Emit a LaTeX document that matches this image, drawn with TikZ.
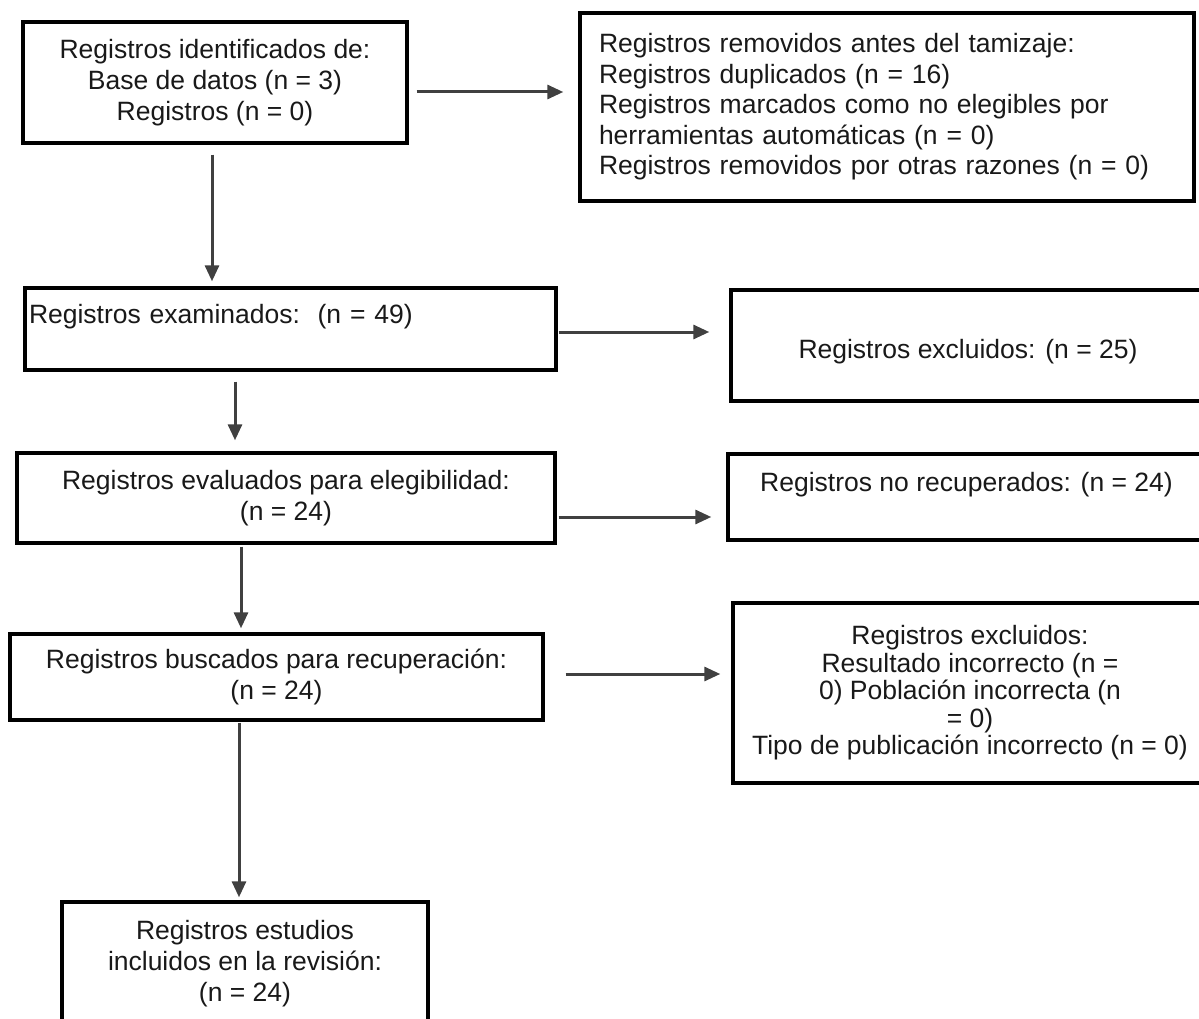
\documentclass[tikz,border=0pt]{standalone}
\usepackage{fontspec}
\setmainfont{Liberation Sans}
\usetikzlibrary{arrows.meta}
\begin{document}
\begin{tikzpicture}[x=1pt,y=-1pt,
  box/.style={draw=black, line width=3.4pt, inner sep=0pt, text=black!90,
    font=\fontsize{26.5}{31}\selectfont},
  arr/.style={draw=black!75, line width=3pt, -{Triangle[length=16pt,width=14pt]}}]
\useasboundingbox (0,0) rectangle (1199,1019);
\fill[white] (0,0) rectangle (1199,1019);

\node[box, minimum width=384pt, minimum height=121pt, align=center] (b1) at (215,82.5)
  {Registros identificados de:\\Base de datos (n = 3)\\Registros (n = 0)};

\node[box, minimum width=614pt, minimum height=188pt, text width=576pt, inner xsep=19pt,
  align=left, font=\fontsize{26.5}{30.5}\selectfont] (rr) at (887,107)
  {Registros removidos antes del tamizaje:\\Registros duplicados (n = 16)\\Registros marcados como no elegibles por\\herramientas automáticas (n = 0)\\Registros removidos por otras razones (n = 0)};

\node[box, minimum width=531pt, minimum height=82pt, text width=523pt, inner xsep=4pt,
  align=left] (ex) at (290.5,329)
  {Registros examinados:\ \ (n = 49)\\\mbox{}};

\node[box, minimum width=474pt, minimum height=111pt, align=center] (exc) at (968,345.5)
  {\mbox{}\\Registros excluidos: (n = 25)};

\node[box, minimum width=538pt, minimum height=90pt, align=center] (ev) at (286,498)
  {Registros evaluados para elegibilidad:\\(n = 24)};

\node[box, minimum width=477pt, minimum height=86pt, align=center] (nr) at (966.5,497)
  {Registros no recuperados: (n = 24)\\\mbox{}};

\node[box, minimum width=533pt, minimum height=86pt, align=center] (bu) at (276.5,677)
  {Registros buscados para recuperación:\\(n = 24)};

\node[box, minimum width=474pt, minimum height=180pt, align=center,
  font=\fontsize{26.5}{27.5}\selectfont] (ex2) at (970,693)
  {Registros excluidos:\\Resultado incorrecto (n =\\0) Población incorrecta (n\\= 0)\\Tipo de publicación incorrecto (n = 0)};

\node[box, minimum width=366pt, minimum height=123pt, align=center] (inc) at (245,963.5)
  {Registros estudios\\incluidos en la revisión:\\(n = 24)};

\coordinate (a1) at ([yshift=-9.5pt]b1.east);
\draw[arr, shorten <=8pt, shorten >=15pt] (a1) -- (a1 -| rr.west);

\coordinate (a2) at ([xshift=-3pt]b1.south);
\draw[arr, shorten <=10pt, shorten >=5pt] (a2) -- (a2 |- ex.north);

\coordinate (a3) at ([yshift=-3pt]ex.east);
\draw[arr, shorten <=1pt, shorten >=20pt] (a3) -- (a3 -| exc.west);

\coordinate (a4) at ([xshift=-55.5pt]ex.south);
\draw[arr, shorten <=10pt, shorten >=11pt] (a4) -- (a4 |- ev.north);

\coordinate (a5) at ([yshift=-19pt]ev.east);
\draw[arr, shorten <=2pt, shorten >=15pt] (a5) -- (a5 -| nr.west);

\coordinate (a6) at ([xshift=-45pt]ev.south);
\draw[arr, shorten <=2pt, shorten >=4pt] (a6) -- (a6 |- bu.north);

\coordinate (a7) at ([yshift=3pt]bu.east);
\draw[arr, shorten <=21pt, shorten >=11pt] (a7) -- (a7 -| ex2.west);

\coordinate (a8) at ([xshift=-37.5pt]bu.south);
\draw[arr, shorten <=1pt, shorten >=3pt] (a8) -- (a8 |- inc.north);
\end{tikzpicture}
\end{document}
